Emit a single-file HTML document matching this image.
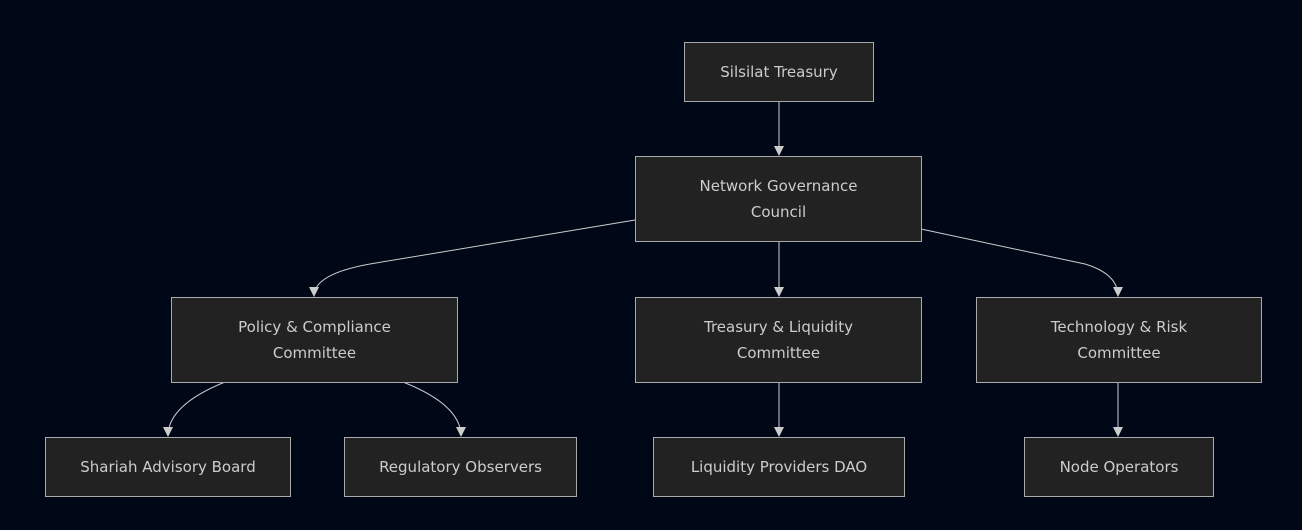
<!DOCTYPE html>
<html><head><style>
body{margin:0;background:#000818;width:1302px;height:530px;overflow:hidden;font-family:"DejaVu Sans","Liberation Sans",sans-serif;}
.n{position:absolute;box-sizing:border-box;background:#222222;border:1px solid #aaaaaa;color:#ccc;font-size:15px;display:flex;align-items:center;justify-content:center;text-align:center;line-height:26px;}
svg{position:absolute;left:0;top:0}
</style></head><body>
<svg width="1302" height="530">
<defs><marker id="a" markerWidth="10" markerHeight="10" refX="9" refY="5" orient="auto" markerUnits="userSpaceOnUse"><path d="M0,0 L10,5 L0,10 z" fill="#ccc"/></marker></defs>
<g stroke="#ccc" stroke-width="1" fill="none" marker-end="url(#a)">
<path d="M779,101 L779,155"/>
<path d="M779,241 L779,296"/>
<path d="M635,220 L370,264 Q314,274 314,296"/>
<path d="M921,229 L1085,264 Q1118,274 1118,296"/>
<path d="M225,382 Q168,405 168,436"/>
<path d="M403,382 Q461,405 461,436"/>
<path d="M779,382 L779,436"/>
<path d="M1118,382 L1118,436"/>
</g></svg>
<div class="n" style="left:684px;top:42px;width:190px;height:60px">Silsilat Treasury</div>
<div class="n" style="left:635px;top:156px;width:287px;height:86px">Network Governance<br>Council</div>
<div class="n" style="left:171px;top:297px;width:287px;height:86px">Policy &amp; Compliance<br>Committee</div>
<div class="n" style="left:635px;top:297px;width:287px;height:86px">Treasury &amp; Liquidity<br>Committee</div>
<div class="n" style="left:976px;top:297px;width:286px;height:86px">Technology &amp; Risk<br>Committee</div>
<div class="n" style="left:45px;top:437px;width:246px;height:60px">Shariah Advisory Board</div>
<div class="n" style="left:344px;top:437px;width:233px;height:60px">Regulatory Observers</div>
<div class="n" style="left:653px;top:437px;width:252px;height:60px">Liquidity Providers DAO</div>
<div class="n" style="left:1024px;top:437px;width:190px;height:60px">Node Operators</div>
</body></html>
